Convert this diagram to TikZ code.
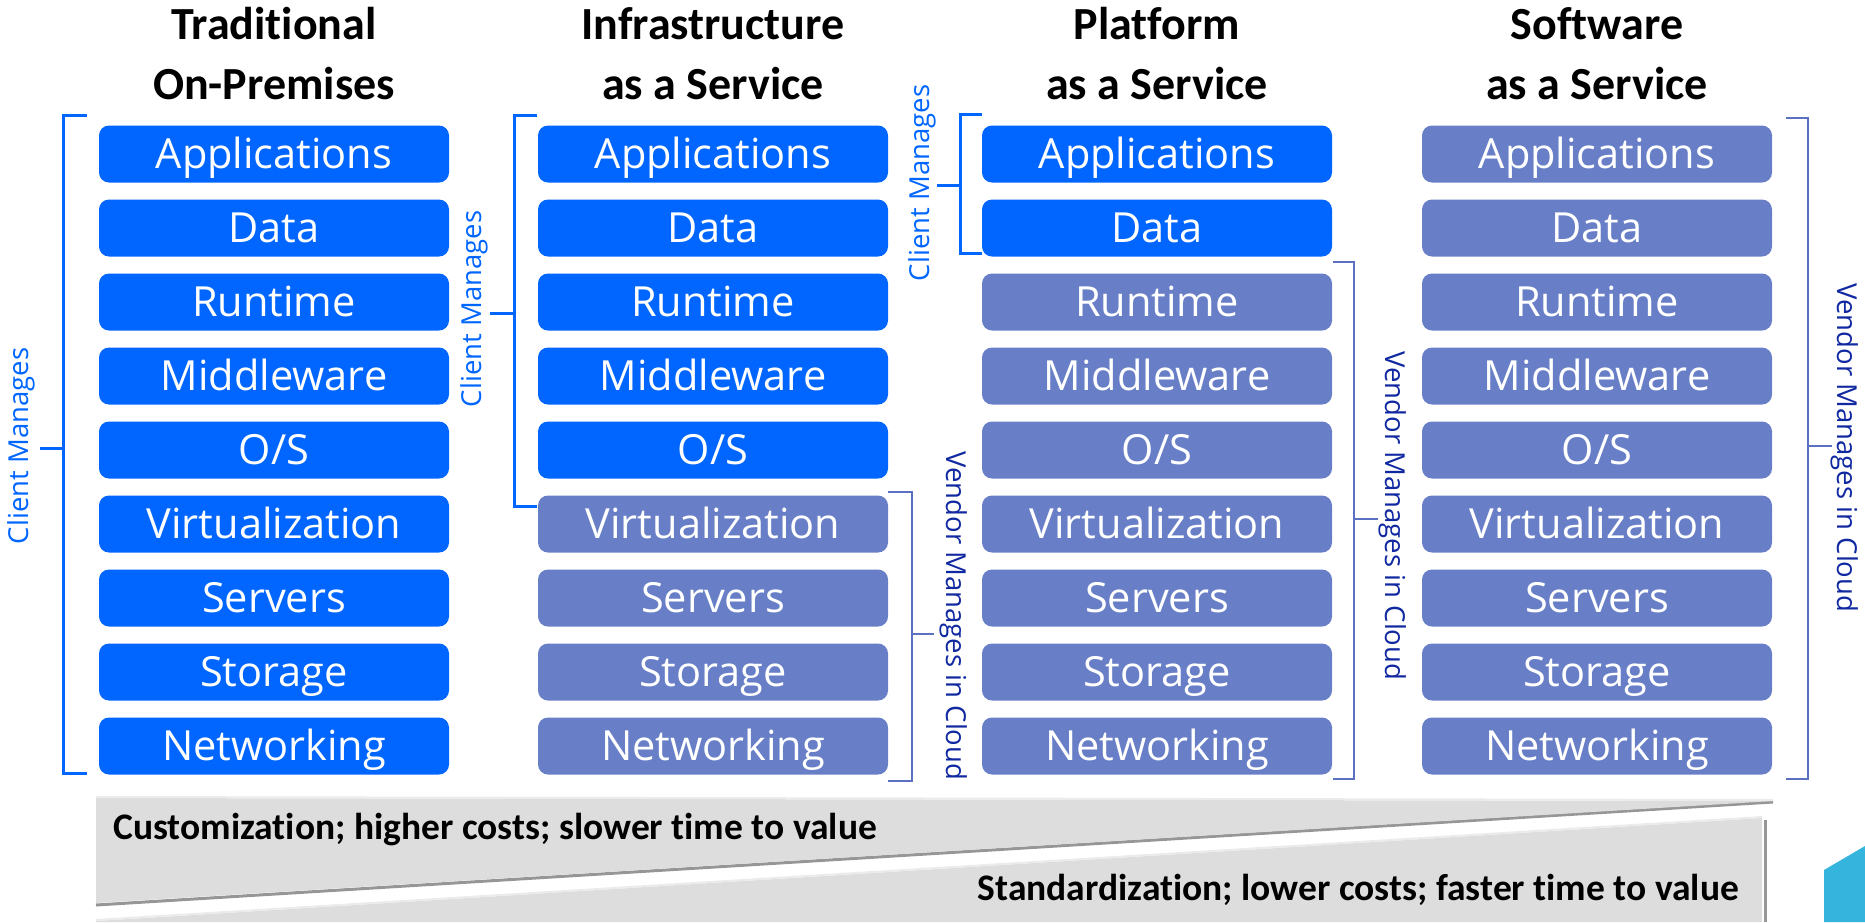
\documentclass[tikz,border=0pt]{standalone}
\usepackage{fontspec}
\setmainfont{Open Sans}
\newfontfamily\headfont[Ligatures=NoCommon]{Carlito}
\definecolor{clientblue}{RGB}{0,102,255}
\definecolor{vendorbox}{RGB}{104,127,199}
\definecolor{vendorline}{RGB}{92,112,194}
\definecolor{vendortext}{RGB}{16,40,160}
\definecolor{wedgegray}{RGB}{221,221,221}
\definecolor{shadowgray}{RGB}{150,150,150}
\definecolor{cornercyan}{RGB}{53,181,221}
\begin{document}
\begin{tikzpicture}[x=1pt, y=-1pt,
  layer/.style={rectangle, rounded corners=10pt, minimum width=350pt, minimum height=57pt, inner sep=0pt, text=white, font=\fontsize{41.5}{48}\selectfont, text height=29.6pt, text depth=0pt},
  head/.style={font=\headfont\bfseries\fontsize{46}{60}\selectfont, align=center, inner sep=0pt},
  client line/.style={draw=clientblue, line width=3pt},
  vendor line/.style={draw=vendorline, line width=2.6pt},
  client label/.style={text=clientblue, font=\fontsize{27.5}{32}\selectfont, rotate=90},
  vendor label/.style={text=vendortext, font=\fontsize{27.5}{32}\selectfont, rotate=-90},
  trade/.style={font=\headfont\bfseries\fontsize{37.5}{44}\selectfont, inner sep=0pt}]
\useasboundingbox (0,0) rectangle (1865,922);
% column headings
\node[head, anchor=base] (htr) at (274,99) {Traditional\\On-Premises};
\node[head, anchor=base] (hia) at (713,99) {Infrastructure\\as a Service};
\node[head, anchor=base] (hpa) at (1157,99) {Platform\\as a Service};
\node[head, anchor=base] (hsa) at (1597,99) {Software\\as a Service};
% stacks
\foreach \col/\x/\cut in {tr/274/9, ia/713/5, pa/1157/2, sa/1597/0}{
  \foreach \lbl [count=\i from 0] in {Applications,Data,Runtime,Middleware,O/S,Virtualization,Servers,Storage,Networking}{
    \ifnum\i<\cut \def\fillc{clientblue}\else\def\fillc{vendorbox}\fi
    \node[layer, fill=\fillc] (\col\i) at (\x,{154+74*\i}) {\lbl};
  }
}
% client brackets
\draw[client line] (87,115) -- (63,115) -- (63,773) -- (87,773);
\draw[client line] (63,448) -- (40,448);
\node[client label] (ctr) at (21,446) {Client Manages};
\draw[client line] (537,115) -- (514,115) -- (514,506) -- (537,506);
\draw[client line] (514,313) -- (490,313);
\node[client label] (cia) at (474,309) {Client Manages};
\draw[client line] (982,114) -- (960,114) -- (960,253) -- (982,253);
\draw[client line] (960,185) -- (937,185);
\node[client label] (cpa) at (922,183) {Client Manages};
% vendor brackets
\draw[vendor line] (888,492) -- (912,492) -- (912,781) -- (888,781);
\draw[vendor line] (912,634) -- (934,634);
\node[vendor label] (via) at (954,616) {Vendor Manages in Cloud};
\draw[vendor line] (1333,262) -- (1354,262) -- (1354,779) -- (1333,779);
\draw[vendor line] (1354,519) -- (1378,519);
\node[vendor label] (vpa) at (1393,516) {Vendor Manages in Cloud};
\draw[vendor line] (1786,118) -- (1808,118) -- (1808,779) -- (1786,779);
\draw[vendor line] (1808,446) -- (1832,446);
\node[vendor label] (vsa) at (1845,448) {Vendor Manages in Cloud};
% trade-off wedges
\draw[shadowgray, line width=3pt] (96,905) -- (1773,802);
\fill[wedgegray] (96,798) -- (1773,801) -- (96,903) -- cycle;
\draw[white!92!black, line width=2pt] (96,797) -- (1773,800);
\draw[shadowgray, line width=3pt] (1765,820) -- (1765,922);
\fill[wedgegray] (96,921) -- (1762,818) -- (1762,922) -- (96,922) -- cycle;
\draw[white!92!black, line width=2pt] (96,920) -- (1762,817);
\node[trade, anchor=base west] (custom) at (113,839) {Customization; higher costs; slower time to value};
\node[trade, anchor=base east] (standard) at (1739,900) {Standardization; lower costs; faster time to value};
\fill[cornercyan] (1824,922) -- (1824,870) -- (1865,846) -- (1865,922) -- cycle;
\end{tikzpicture}
\end{document}
